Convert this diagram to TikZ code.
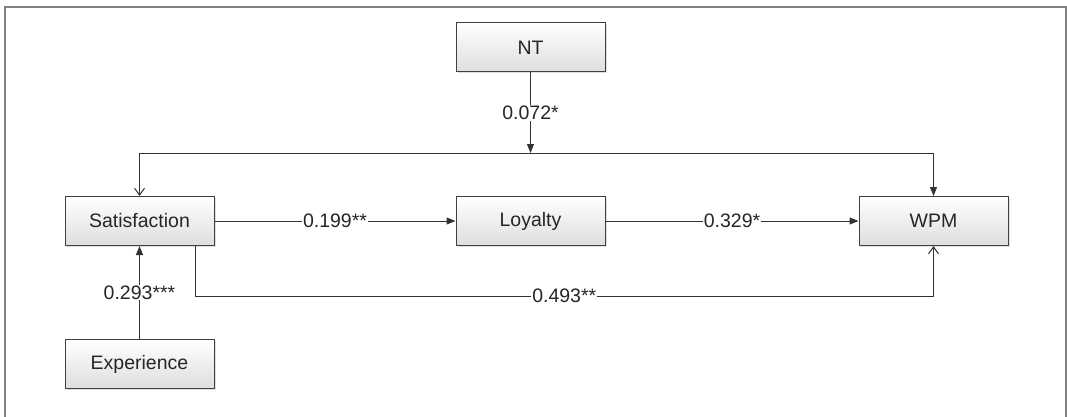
\documentclass[tikz,border=0pt]{standalone}
\usepackage{fontspec}
\setmainfont{Liberation Sans}
\usetikzlibrary{arrows.meta,shadows}
\begin{document}
\begin{tikzpicture}[x=1pt,y=-1pt,
  box/.style={draw=black!75, line width=1pt, top color=white, bottom color=black!13,
    minimum width=149pt, minimum height=49pt, inner sep=0pt,
    font=\fontsize{19.5}{22}\selectfont, text=black!85,
    drop shadow={shadow xshift=1.5pt, shadow yshift=-1.5pt, opacity=0.25}},
  conn/.style={draw=black!80, line width=1pt},
  fa/.style={-{Triangle[length=9pt,width=7pt]}},
  oa/.style={-{Straight Barb[length=7pt,width=10pt]}},
  lbl/.style={fill=white, inner sep=1pt, font=\fontsize{19.5}{22}\selectfont, text=black!85}
]
\useasboundingbox (0,0) rectangle (1067,417);
\draw[black!50, line width=1.5pt] (5,417) -- (5,7) -- (1066,7) -- (1066,417);

\node[box] (NT)  at (530.5,47.5) {NT};
\node[box] (Sat) at (139.5,221) {Satisfaction};
\node[box] (Loy) at (530.5,221) {Loyalty};
\node[box] (WPM) at (933.5,221) {WPM};
\node[box] (Exp) at (139.5,364) {Experience};

\coordinate (jl) at (139.5,153);
\coordinate (jm) at (530.5,153);
\coordinate (jr) at (933.5,153);
\coordinate (b1) at (195,296);
\coordinate (b2) at (933.5,296);

\draw[conn] (jl) -- (jr);
\draw[conn,oa] (jl) -- (Sat.north);
\draw[conn,fa] (jr) -- (WPM.north);
\draw[conn,fa] (NT) -- node[lbl]{0.072*} (jm);

\draw[conn,fa] (Sat) -- node[lbl]{0.199**} (Loy);
\draw[conn,fa] (Loy) -- node[lbl]{0.329*} (WPM);
\draw[conn,fa] (Exp) -- node[lbl]{0.293***} (Sat);

\draw[conn] ([xshift=55.5pt]Sat.south) -- (b1);
\draw[conn] (b1) -- node[lbl]{0.493**} (b2);
\draw[conn,oa] (b2) -- (WPM.south);
\end{tikzpicture}
\end{document}
